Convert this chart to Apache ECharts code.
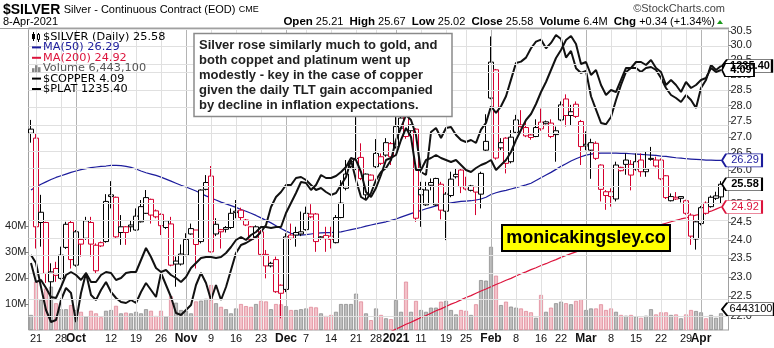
<!DOCTYPE html>
<html>
<head>
<meta charset="utf-8">
<title>$SILVER Daily</title>
<script src="https://cdn.jsdelivr.net/npm/echarts@6.0.0/dist/echarts.min.js"></script>
<style>
html, body { margin: 0; padding: 0; background: #ffffff; }
#chart { width: 774px; height: 348px; }
</style>
</head>
<body>
<div id="chart"></div>
<script>
// ---- trading calendar ----
const firstDay = '2020-09-18';
const lastDay = '2021-04-08';
const holidays = ['2020-11-26', '2020-12-25', '2021-01-01', '2021-01-18', '2021-02-15', '2021-04-02'];

// ---- date axis labels ----
const tickDates = ['2020-09-21','2020-09-28','2020-10-01','2020-10-12','2020-10-19','2020-10-26','2020-11-02','2020-11-09','2020-11-16','2020-11-23','2020-12-01','2020-12-07','2020-12-14','2020-12-21','2020-12-28','2021-01-04','2021-01-11','2021-01-19','2021-01-25','2021-02-01','2021-02-08','2021-02-16','2021-02-22','2021-03-01','2021-03-08','2021-03-15','2021-03-22','2021-03-29','2021-04-01'];
const tickLabels = ['21','28','Oct','12','19','26','Nov','9','16','23','Dec','7','14','21','28','2021','11','19','25','Feb','8','16','22','Mar','8','15','22','29','Apr'];
const monthLabels = ['Oct','Nov','Dec','2021','Feb','Mar','Apr'];

// ---- value axis ticks ----
const priceTicks = [22.0, 22.5, 23.0, 23.5, 24.0, 24.5, 25.0, 25.5, 26.0, 26.5, 27.0, 27.5, 28.0, 28.5, 29.0, 29.5, 30.0, 30.5];
const volumeTicks = [10, 20, 30, 40]; // millions

// ---- $SILVER daily OHLC ----
const open = [27.25,26.97,24.77,24.48,22.87,23.22,22.96,23.79,24.48,23.31,23.88,24.04,24.48,23.16,23.92,23.95,25.27,25.20,24.20,24.36,24.41,24.27,24.50,24.74,25.14,24.81,24.71,24.34,24.44,23.42,23.34,23.58,24.16,24.27,23.95,25.43,25.82,24.16,24.28,24.34,24.34,24.80,24.83,24.55,24.36,24.08,24.22,23.60,23.29,23.46,22.78,22.67,24.13,24.20,24.16,24.28,24.64,24.72,24.08,24.12,24.10,23.92,24.62,25.46,26.25,26.05,26.38,25.27,25.70,26.10,26.40,26.45,26.80,26.70,27.28,27.65,27.38,27.25,25.43,24.98,25.63,24.98,25.58,24.80,25.25,25.87,26.00,25.51,25.40,25.51,25.29,26.60,28.24,29.17,26.67,26.97,26.25,27.15,27.38,27.30,27.07,27.02,27.47,27.48,27.44,27.08,27.54,28.21,27.68,28.04,27.49,26.78,26.60,26.81,26.15,25.36,25.36,25.15,25.98,26.30,26.17,26.03,26.30,25.95,26.35,26.12,26.30,25.83,25.10,25.20,25.22,25.10,24.69,24.02,24.45,25.03,24.93,25.17,25.21];
const high = [27.54,27.12,25.27,24.50,23.36,23.40,23.81,24.50,24.55,24.27,24.01,24.64,24.64,23.90,23.95,25.29,25.67,25.22,24.69,24.38,24.55,24.88,25.12,25.41,25.16,24.85,24.74,24.55,24.64,23.54,23.87,24.18,24.45,24.27,25.43,25.85,26.12,24.60,24.30,24.38,24.88,25.12,24.90,24.58,24.38,24.40,24.27,23.72,23.40,23.54,22.80,24.18,24.45,24.36,24.79,24.93,25.00,24.75,24.10,24.36,24.36,24.69,25.70,26.30,26.35,27.63,26.81,25.90,25.87,26.94,26.50,26.97,26.85,27.65,27.75,27.70,27.40,27.28,25.65,25.65,25.75,25.77,25.65,25.35,25.95,26.05,26.05,25.80,25.56,25.53,25.95,27.72,30.31,29.20,26.97,27.00,27.22,27.70,27.85,27.50,27.10,27.56,27.90,27.52,27.56,27.33,28.13,28.36,28.02,28.13,27.54,27.18,26.95,26.87,26.17,25.41,25.46,26.25,26.10,26.50,26.30,26.50,26.50,26.55,26.70,26.40,26.35,25.85,25.31,25.35,25.22,25.13,24.74,24.55,24.95,25.08,25.25,25.36,25.67];
const low = [26.83,23.76,23.81,22.84,21.90,22.87,22.93,23.75,23.22,23.27,23.54,24.00,23.54,23.10,23.80,23.92,24.88,24.05,23.86,23.86,24.22,24.25,24.48,24.72,24.45,24.60,24.13,24.30,23.28,22.74,23.30,23.55,24.14,23.22,23.90,25.40,23.65,24.10,23.76,24.20,24.30,24.60,24.55,24.38,23.98,24.05,23.55,22.96,23.25,22.58,21.93,22.60,24.00,23.81,24.10,24.25,24.60,23.67,24.00,23.67,23.76,23.90,24.60,25.40,26.05,26.00,25.70,25.12,25.68,26.05,26.15,26.40,26.15,26.65,27.20,26.95,27.02,24.50,24.36,24.95,25.40,24.95,24.57,23.99,25.20,25.75,25.32,25.40,25.37,24.69,24.88,26.55,28.20,26.31,26.60,25.90,26.20,27.10,27.30,27.00,26.92,27.00,27.20,27.40,26.97,26.25,27.50,27.33,27.38,27.60,26.15,26.60,25.74,26.30,25.08,24.84,24.93,25.08,25.96,25.86,25.40,25.98,25.80,25.80,26.28,26.08,25.70,25.15,25.08,25.12,25.05,24.70,23.86,23.73,24.40,24.70,24.90,25.12,25.02];
const close = [27.12,24.36,24.48,23.09,23.13,23.04,23.58,24.43,23.46,24.22,24.01,24.53,23.88,23.85,23.83,25.08,25.22,24.08,24.36,24.20,24.36,24.66,24.93,25.19,24.69,24.64,24.39,24.53,23.31,23.34,23.61,24.01,24.31,23.87,25.41,25.63,23.67,24.43,24.22,24.29,24.74,24.76,24.62,24.41,24.01,24.36,23.60,23.29,23.36,22.61,22.57,24.08,24.04,24.13,24.22,24.74,24.72,23.95,24.05,24.03,24.01,24.62,25.03,25.88,26.10,26.35,25.75,25.88,25.85,26.50,26.20,26.83,26.40,27.33,27.60,27.02,27.20,24.60,25.27,25.41,25.55,25.75,24.83,25.29,25.73,25.80,25.51,25.44,25.53,25.35,25.90,26.87,29.43,26.36,26.83,26.20,27.00,27.54,27.33,27.04,26.99,27.30,27.26,27.42,27.02,27.20,28.02,27.68,27.80,27.65,26.71,26.73,26.83,26.35,25.43,25.25,25.22,26.15,26.08,26.17,25.85,26.25,25.95,26.03,26.32,26.30,25.74,25.19,25.22,25.15,25.17,24.74,24.10,24.50,24.90,24.74,25.20,25.24,25.58];

// ---- volume, millions of contracts ----
const volume = [5.8,18.6,11.5,16.0,16.7,10.3,8.0,8.0,9.6,7.7,7.0,5.1,7.4,6.4,4.9,7.4,7.7,9.3,6.4,6.7,6.4,7.0,6.4,8.0,7.4,5.4,7.4,5.1,13.0,10.5,7.7,7.4,6.4,11.0,11.3,12.0,17.3,10.3,8.9,8.0,6.4,8.3,10.0,9.2,8.9,10.0,11.2,11.0,8.0,10.0,9.9,9.2,7.7,7.7,8.0,8.3,8.9,8.7,6.4,5.4,5.8,7.0,10.0,10.0,10.0,14.0,11.0,6.4,3.8,8.3,5.8,4.5,4.2,11.5,7.0,18.6,7.0,11.2,7.7,7.0,8.6,8.6,10.9,11.2,7.7,6.0,7.7,7.4,5.8,9.9,19.2,19.0,32.0,20.9,9.6,10.9,9.0,8.6,8.3,7.3,6.8,4.7,13.5,7.0,8.6,10.3,10.9,10.3,9.9,11.2,11.9,7.7,8.3,8.3,9.9,7.7,8.3,7.0,5.8,5.5,5.8,5.1,4.7,5.5,8.0,6.0,6.8,6.8,5.8,6.0,4.5,6.0,7.7,7.3,6.8,4.5,5.8,4.7,6.4431];

// ---- moving averages ----
const ma50 = [25.41,25.50,25.58,25.65,25.72,25.78,25.83,25.88,25.93,25.97,26.01,26.04,26.07,26.09,26.11,26.12,26.14,26.14,26.13,26.11,26.08,26.03,25.97,25.92,25.88,25.84,25.79,25.73,25.67,25.61,25.55,25.50,25.44,25.38,25.31,25.24,25.18,25.12,25.06,25.01,24.96,24.91,24.85,24.80,24.74,24.68,24.61,24.54,24.47,24.39,24.31,24.24,24.18,24.14,24.13,24.14,24.16,24.18,24.19,24.20,24.20,24.21,24.22,24.25,24.28,24.31,24.34,24.38,24.41,24.44,24.47,24.50,24.54,24.58,24.63,24.68,24.73,24.78,24.82,24.87,24.91,24.95,24.98,25.01,25.04,25.06,25.08,25.09,25.10,25.12,25.15,25.20,25.28,25.33,25.37,25.40,25.44,25.48,25.52,25.56,25.61,25.69,25.77,25.85,25.93,26.02,26.11,26.19,26.27,26.34,26.40,26.45,26.48,26.50,26.51,26.51,26.51,26.51,26.50,26.50,26.49,26.48,26.47,26.46,26.45,26.44,26.42,26.41,26.39,26.37,26.36,26.34,26.33,26.32,26.31,26.30,26.30,26.29,26.29];
const ma200 = [null,null,null,null,null,null,null,null,null,null,null,null,null,null,null,null,null,null,null,null,null,null,null,null,null,null,null,null,null,null,null,null,null,null,null,null,null,null,null,null,null,null,null,null,null,null,null,null,null,null,null,null,null,null,null,null,null,null,null,null,null,null,null,null,null,21.20,21.26,21.32,21.38,21.44,21.49,21.55,21.60,21.66,21.72,21.78,21.83,21.89,21.95,22.00,22.06,22.12,22.17,22.23,22.29,22.34,22.40,22.46,22.51,22.57,22.63,22.68,22.74,22.80,22.85,22.91,22.96,23.02,23.08,23.13,23.19,23.24,23.30,23.35,23.41,23.46,23.52,23.57,23.62,23.67,23.72,23.77,23.82,23.86,23.91,23.95,24.00,24.04,24.09,24.13,24.17,24.22,24.26,24.30,24.34,24.38,24.42,24.46,24.50,24.54,24.58,24.61,24.65,24.69,24.72,24.76,24.80,24.86,24.92];

// ---- overlays ----
const copper = [3.125,3.03,3.04,3.00,2.955,2.95,3.005,3.065,3.08,3.065,3.04,3.075,3.03,3.03,3.065,3.08,3.075,3.04,3.05,3.075,3.08,3.08,3.14,3.20,3.155,3.10,3.08,3.09,3.065,3.05,3.03,3.055,3.10,3.125,3.15,3.155,3.155,3.15,3.155,3.175,3.205,3.24,3.255,3.24,3.265,3.28,3.305,3.305,3.30,3.305,3.305,3.375,3.425,3.475,3.53,3.525,3.49,3.515,3.565,3.55,3.55,3.56,3.58,3.605,3.65,3.64,3.58,3.48,3.455,3.50,3.565,3.64,3.65,3.665,3.74,3.80,3.755,3.59,3.59,3.64,3.65,3.665,3.65,3.64,3.63,3.64,3.615,3.59,3.58,3.60,3.615,3.625,3.64,3.59,3.615,3.64,3.68,3.74,3.79,3.84,3.87,3.92,3.98,4.03,4.09,4.15,4.19,4.24,4.26,4.22,4.12,4.13,4.065,4.09,4.015,3.965,3.99,3.98,4.04,4.10,4.10,4.13,4.13,4.115,4.14,4.10,4.08,4.015,4.04,4.015,3.98,4.03,4.00,4.015,4.04,4.05,4.10,4.08,4.09];
const plat = [951.9,939.9,903.9,869.4,851.4,854.4,884.4,902.4,894.9,851.4,894.9,924.9,891.9,884.4,899.4,911.4,896.4,887.4,881.4,879.9,884.4,879.9,896.4,909.9,899.4,888.9,924.9,906.9,888.9,864.9,861.9,869.4,876.9,906.9,924.9,909.9,884.4,906.9,884.4,903.9,929.4,954.9,966.9,969.9,974.4,978.9,986.4,996.9,1023.9,1038.9,1046.4,1056.9,1056.9,1067.4,1068.9,1064.4,1056.9,1049.4,1052.4,1046.4,1041.9,1044.9,1056.9,1068.9,1094.4,1064.4,1038.9,1034.4,1044.9,1064.4,1076.4,1082.4,1094.4,1124.4,1142.4,1161.9,1154.4,1131.9,1076.4,1071.9,1136.4,1142.4,1127.4,1142.4,1143.9,1131.9,1124.4,1121.4,1124.4,1119.9,1140.0,1150.0,1175.0,1165.0,1175.0,1190.0,1215.0,1240.0,1242.0,1248.0,1262.0,1272.0,1275.0,1262.0,1270.0,1282.0,1276.0,1248.0,1258.0,1232.0,1225.0,1228.0,1190.0,1170.0,1150.0,1148.0,1158.9,1184.4,1206.9,1226.4,1232.4,1232.4,1226.4,1232.4,1233.9,1229.4,1217.4,1202.4,1191.9,1187.4,1181.4,1191.9,1184.4,1172.4,1202.4,1214.4,1236.9,1229.4,1235.4];

// ---- palette / fonts ----
const RED = '#d4002f';
const BLACK = '#000000';
const NAVY = '#1c1c9c';
const CRIMSON = '#dc143c';
const FONT = '"Liberation Sans", Arial, Helvetica, sans-serif';
const LFONT = '"DejaVu Sans", Verdana, sans-serif';

function tradingDays(a, b, skip) {
  const out = [];
  const d = new Date(a + 'T00:00:00Z');
  const end = new Date(b + 'T00:00:00Z');
  while (d <= end) {
    const wd = d.getUTCDay();
    const s = d.toISOString().slice(0, 10);
    if (wd !== 0 && wd !== 6 && skip.indexOf(s) < 0) out.push(s);
    d.setUTCDate(d.getUTCDate() + 1);
  }
  return out;
}

const dates = tradingDays(firstDay, lastDay, holidays);
const last = dates.length - 1;
const cats = dates.concat(['']); // spare slot before the right-hand scale
const ln = Math.log;
const lnOrNull = v => (v == null ? null : ln(v));
const isMonth = d => monthLabels.indexOf(tickLabels[tickDates.indexOf(d)]) >= 0;

// candle colour: black when the close is up on the day, red when down;
// hollow body when close > open, filled otherwise
const upDay = close.map((c, i) => (i === 0 ? true : c >= close[i - 1]));
const candleData = close.map((c, i) => {
  const col = upDay[i] ? BLACK : RED;
  return {
    value: [ln(open[i]), ln(c), ln(low[i]), ln(high[i])],
    itemStyle: { color: '#ffffff', color0: col, borderColor: col, borderColor0: col }
  };
});
const volumeData = volume.map((v, i) => ({
  value: v * 1e6,
  itemStyle: upDay[i]
    ? { color: '#bdbdbd', borderColor: '#8e8e8e', borderWidth: 0.8 }
    : { color: '#f3c1c9', borderColor: '#df8a99', borderWidth: 0.8 }
}));

// grid lines
const gridLines = tickDates.map(d => ({
  xAxis: d,
  lineStyle: { color: isMonth(d) ? '#b4b4b4' : '#e0e0e0', width: 1, type: 'solid' }
})).concat(priceTicks.map(p => ({
  yAxis: ln(p),
  lineStyle: { color: '#e0e0e0', width: 1, type: 'solid' }
})));

// last-value tag on the right-hand scale
function tag(coordVal, text, color, width, bold, dy) {
  return {
    silent: true,
    animation: false,
    symbol: 'path://M0,6L6,0L60,0L60,12L6,12Z',
    symbolKeepAspect: false,
    symbolSize: [width, 13],
    symbolOffset: [width / 2 + 1, dy || 0],
    itemStyle: { color: '#ffffff', borderColor: color, borderWidth: 1.2 },
    label: {
      show: true, position: 'inside', offset: [3, 0], formatter: text,
      color: color === BLACK ? '#000' : color, fontSize: 11, fontFamily: FONT,
      fontWeight: bold ? 'bold' : 'normal'
    },
    data: [{ coord: [dates[last], coordVal] }]
  };
}

const fmt2 = v => v.toFixed(2);
const lastClose = close[last];
const chg = lastClose - close[last - 1];
const chgPct = Math.floor(chg / close[last - 1] * 10000) / 100;
const volShares = Math.round(volume[last] * 1e6);

// ---- header, legend, notes ----
const legendRows = [
  { kind: 'candle', text: '$SILVER (Daily) ' + fmt2(lastClose), color: '#000' },
  { kind: 'line', stroke: NAVY, text: 'MA(50) ' + fmt2(ma50[last]), color: NAVY },
  { kind: 'line', stroke: CRIMSON, text: 'MA(200) ' + fmt2(ma200[last]), color: CRIMSON },
  { kind: 'bars', text: 'Volume ' + volShares.toLocaleString('en-US'), color: '#555' },
  { kind: 'line', stroke: '#000', text: '$COPPER ' + fmt2(copper[last]), color: '#000' },
  { kind: 'line', stroke: '#000', text: '$PLAT ' + fmt2(plat[last]), color: '#000' }
];

const graphics = [];
graphics.push({ type: 'line', silent: true, z: 100, shape: { x1: 0, y1: 28.5, x2: 728.5, y2: 28.5 }, style: { stroke: '#a0a0a0', lineWidth: 1 } });
graphics.push({
  type: 'text', x: 3, y: 10, z: 100, silent: true,
  style: {
    text: '{a|$SILVER} {b|Silver - Continuous Contract (EOD)} {c|CME}',
    verticalAlign: 'middle',
    rich: {
      a: { fontFamily: FONT, fontSize: 14, fontWeight: 'bold', fill: '#000' },
      b: { fontFamily: FONT, fontSize: 11, fill: '#000' },
      c: { fontFamily: FONT, fontSize: 9, fill: '#000' }
    }
  }
});
graphics.push({ type: 'text', x: 3, y: 22, z: 100, silent: true, style: { text: '8-Apr-2021', verticalAlign: 'middle', fontFamily: FONT, fontSize: 11, fill: '#000' } });
graphics.push({
  type: 'text', x: 715, y: 22, z: 100, silent: true,
  style: {
    text: '{k|Open} ' + fmt2(open[last]) + '  {k|High} ' + fmt2(high[last]) + '  {k|Low} ' + fmt2(low[last]) +
      '  {k|Close} ' + fmt2(lastClose) + '  {k|Volume} ' + volume[last].toFixed(1) + 'M  {k|Chg} +' + fmt2(chg) + ' (+' + chgPct.toFixed(2) + '%)',
    align: 'right', verticalAlign: 'middle', fontFamily: FONT, fontSize: 11, fill: '#000',
    rich: { k: { fontFamily: FONT, fontSize: 11.5, fontWeight: 'bold', fill: '#000' } }
  }
});
graphics.push({ type: 'polygon', silent: true, z: 100, shape: { points: [[717, 24], [723, 24], [720, 20]] }, style: { fill: '#1a9a1a' } });
graphics.push({ type: 'text', x: 725, y: 9, z: 100, silent: true, style: { text: '\u00a9StockCharts.com', align: 'right', verticalAlign: 'middle', fontFamily: FONT, fontSize: 11, fill: '#444' } });

legendRows.forEach((r, k) => {
  const y = 37 + k * 10.4;
  if (r.kind === 'candle') {
    graphics.push({ type: 'line', silent: true, z: 100, shape: { x1: 33.5, y1: y - 5, x2: 33.5, y2: y + 4 }, style: { stroke: '#000', lineWidth: 1 } });
    graphics.push({ type: 'rect', silent: true, z: 100, shape: { x: 32, y: y - 3, width: 3, height: 5 }, style: { fill: '#000' } });
    graphics.push({ type: 'line', silent: true, z: 100, shape: { x1: 38.5, y1: y - 4, x2: 38.5, y2: y + 5 }, style: { stroke: '#000', lineWidth: 1 } });
    graphics.push({ type: 'rect', silent: true, z: 100, shape: { x: 37.5, y: y - 2.5, width: 2, height: 5 }, style: { fill: '#fff', stroke: '#000', lineWidth: 1 } });
  } else if (r.kind === 'bars') {
    [[32, 4], [35, 7], [38, 5]].forEach(b => {
      graphics.push({ type: 'rect', silent: true, z: 100, shape: { x: b[0], y: y + 4 - b[1], width: 2.5, height: b[1] }, style: { fill: '#888' } });
    });
  } else {
    graphics.push({ type: 'line', silent: true, z: 100, shape: { x1: 32, y1: y, x2: 41, y2: y }, style: { stroke: r.stroke, lineWidth: 2 } });
  }
  graphics.push({ type: 'text', x: 43, y: y, z: 100, silent: true, style: { text: r.text, verticalAlign: 'middle', fontFamily: LFONT, fontSize: 11.3, fill: r.color } });
});

// commentary box
graphics.push({ type: 'rect', silent: true, z: 110, shape: { x: 194, y: 33.5, width: 258, height: 83 }, style: { fill: '#ffffff', stroke: '#8a8a8a', lineWidth: 1.5 } });
graphics.push({
  type: 'text', x: 199, y: 38, z: 111, silent: true,
  style: {
    text: 'Silver rose similarly much to gold, and\nboth coppet and platinum went up\nmodestly - key in the case of copper\ngiven the daily TLT gain accompanied\nby decline in inflation expectations.',
    fontFamily: FONT, fontSize: 13, fontWeight: 'bold', fill: '#222', lineHeight: 15, verticalAlign: 'top'
  }
});
// site badge
graphics.push({ type: 'rect', silent: true, z: 110, shape: { x: 502, y: 225, width: 168, height: 26 }, style: { fill: '#ffff00', stroke: '#000', lineWidth: 2 } });
graphics.push({ type: 'text', x: 586, y: 238.5, z: 111, silent: true, style: { text: 'monicakingsley.co', align: 'center', verticalAlign: 'middle', fontFamily: FONT, fontSize: 18, fontWeight: 'bold', fill: '#000' } });

const dateAxis = (monthRow) => ({
  type: 'category', data: cats, boundaryGap: true, position: 'bottom',
  axisLine: { show: false }, axisTick: { show: false }, splitLine: { show: false },
  axisLabel: {
    interval: (i, v) => tickDates.indexOf(v) >= 0 && isMonth(v) === monthRow,
    hideOverlap: false,
    formatter: v => tickLabels[tickDates.indexOf(v)],
    fontFamily: FONT, fontSize: monthRow ? 12 : 11, fontWeight: monthRow ? 'bold' : 'normal',
    color: '#111', margin: monthRow ? 2.5 : 3
  }
});

const chart = echarts.init(document.getElementById('chart'), null, { renderer: 'canvas' });
chart.setOption({
  animation: false,
  backgroundColor: '#ffffff',
  grid: { left: 28.5, top: 28, width: 700, height: 302, show: true, borderColor: '#a0a0a0', borderWidth: 1, backgroundColor: 'transparent', containLabel: false },
  xAxis: [dateAxis(false), dateAxis(true)],
  yAxis: [
    {
      type: 'value', position: 'right', min: ln(21.638), max: ln(30.605),
      axisLine: { show: true, lineStyle: { color: '#a0a0a0' } },
      axisTick: { show: true, length: 3, customValues: priceTicks.map(ln), lineStyle: { color: '#808080' } },
      axisLabel: { customValues: priceTicks.map(ln), formatter: v => Math.exp(v).toFixed(1), fontFamily: FONT, fontSize: 11, color: '#222', margin: 2 },
      splitLine: { show: false }
    },
    {
      type: 'value', position: 'left', min: 0, max: 302 / 2.6 * 1e6,
      axisLine: { show: false },
      axisTick: { show: true, length: 3, customValues: volumeTicks.map(v => v * 1e6), lineStyle: { color: '#808080' } },
      axisLabel: { customValues: volumeTicks.map(v => v * 1e6), formatter: v => Math.round(v / 1e6) + 'M', fontFamily: FONT, fontSize: 11, color: '#222', margin: 2 },
      splitLine: { show: false }
    },
    { type: 'value', show: false, min: 2.79, max: 4.30 },
    { type: 'value', show: false, min: 839.4, max: 1292.4 }
  ],
  series: [
    {
      name: 'grid', type: 'line', z: 0, data: cats.map(() => null), silent: true, showSymbol: false,
      markLine: { silent: true, animation: false, symbol: ['none', 'none'], label: { show: false }, data: gridLines }
    },
    {
      name: 'Volume', type: 'bar', yAxisIndex: 1, z: 1, barWidth: 4, data: volumeData, silent: true,
      markPoint: tag(volShares, String(volShares), BLACK, 52, false, -4)
    },
    {
      name: 'MA(200)', type: 'line', z: 2, data: ma200.map(lnOrNull), showSymbol: false, silent: true,
      lineStyle: { color: CRIMSON, width: 1.2 }, markPoint: tag(ln(ma200[last]), fmt2(ma200[last]), CRIMSON, 40, false)
    },
    {
      name: 'MA(50)', type: 'line', z: 2, data: ma50.map(ln), showSymbol: false, silent: true,
      lineStyle: { color: NAVY, width: 1.2 }, markPoint: tag(ln(ma50[last]), fmt2(ma50[last]), NAVY, 40, false)
    },
    {
      name: '$SILVER', type: 'candlestick', z: 3, barWidth: 4.6, barMinWidth: 4.6, barMaxWidth: 5, data: candleData, silent: true,
      itemStyle: { borderWidth: 1 },
      markPoint: tag(ln(lastClose), fmt2(lastClose), BLACK, 40, true)
    },
    {
      name: '$PLAT', type: 'line', yAxisIndex: 3, z: 4, data: plat, showSymbol: false, silent: true,
      lineStyle: { color: '#111', width: 2 }, markPoint: tag(plat[last], fmt2(plat[last]), BLACK, 50, true)
    },
    {
      name: '$COPPER', type: 'line', yAxisIndex: 2, z: 5, data: copper, showSymbol: false, silent: true,
      lineStyle: { color: '#111', width: 2 }, markPoint: tag(copper[last], fmt2(copper[last]), BLACK, 32, true)
    }
  ],
  graphic: graphics
});
</script>
</body>
</html>
